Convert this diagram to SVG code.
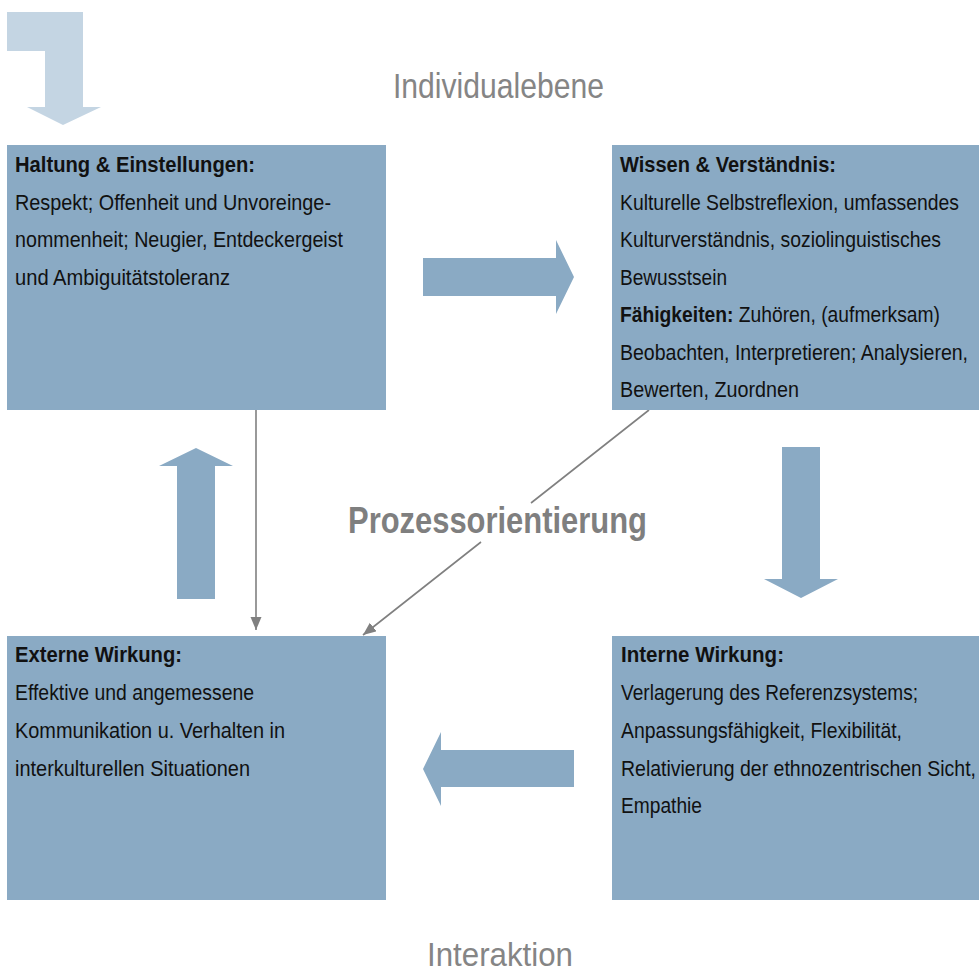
<svg xmlns="http://www.w3.org/2000/svg" width="979" height="972" viewBox="0 0 979 972">
<style>
.box{fill:#8aaac4}
.fat{fill:#8aaac4}
.t{font-family:"Liberation Sans Narrow","Liberation Sans",Arial,sans-serif;font-size:22px;fill:#111}
.b{font-weight:bold}
.lbl{font-family:"Liberation Sans Narrow","Liberation Sans",Arial,sans-serif;fill:#858585}
.con{stroke:#808080;stroke-width:1.6;fill:none}
</style>
<defs>
<marker id="ah" markerUnits="userSpaceOnUse" markerWidth="14" markerHeight="12" refX="13" refY="5.5" orient="auto">
<path d="M0,0 L13,5.5 L0,11 z" fill="#808080"/>
</marker>
</defs>
<rect width="979" height="972" fill="#ffffff"/>

<g id="entry-arrow">
<polygon points="7,12 83,12 83,107 101,107 63,125 27,107 45,107 45,51 7,51" fill="#c4d5e3"/>
</g>

<g id="labels">
<text class="lbl" x="393" y="98" font-size="35" textLength="211" lengthAdjust="spacingAndGlyphs">Individualebene</text>
<text class="lbl" x="427" y="966" font-size="34" textLength="146" lengthAdjust="spacingAndGlyphs">Interaktion</text>
</g>

<g id="connectors">
<path class="con" d="M256,410 L256,630" marker-end="url(#ah)"/>
<path class="con" d="M649,410 L531,503 M481,542 L363,635" marker-end="url(#ah)"/>
</g>

<g id="process-label">
<text class="lbl b" x="348" y="533" font-size="36" textLength="299" lengthAdjust="spacingAndGlyphs" style="fill:#7f7f7f">Prozessorientierung</text>
</g>

<g id="flow-arrows">
<polygon class="fat" points="423,258 556,258 556,240 574,277 556,314 556,296 423,296"/>
<polygon class="fat" points="782,447 820,447 820,579 838,579 801,598 764,579 782,579"/>
<polygon class="fat" points="574,750 574,787 441,787 441,806 423,769 441,732 441,750"/>
<polygon class="fat" points="177,599 177,466 159,466 196,448 233,466 215,466 215,599"/>
</g>

<g id="haltung">
<rect class="box" x="7" y="145" width="379" height="265"/>
<text class="t b" x="15" y="172" textLength="240" lengthAdjust="spacingAndGlyphs">Haltung &amp; Einstellungen:</text>
<text class="t" x="15" y="210" textLength="316" lengthAdjust="spacingAndGlyphs">Respekt; Offenheit und Unvoreinge-</text>
<text class="t" x="15" y="247" textLength="328" lengthAdjust="spacingAndGlyphs">nommenheit; Neugier, Entdeckergeist</text>
<text class="t" x="15" y="285" textLength="215" lengthAdjust="spacingAndGlyphs">und Ambiguitätstoleranz</text>
</g>

<g id="wissen">
<rect class="box" x="612" y="145" width="367" height="265"/>
<text class="t b" x="620" y="172" textLength="216" lengthAdjust="spacingAndGlyphs">Wissen &amp; Verständnis:</text>
<text class="t" x="620" y="210" textLength="339" lengthAdjust="spacingAndGlyphs">Kulturelle Selbstreflexion, umfassendes</text>
<text class="t" x="620" y="247" textLength="321" lengthAdjust="spacingAndGlyphs">Kulturverständnis, soziolinguistisches</text>
<text class="t" x="620" y="285" textLength="107" lengthAdjust="spacingAndGlyphs">Bewusstsein</text>
<text class="t" x="620" y="322" textLength="320" lengthAdjust="spacingAndGlyphs"><tspan class="b">Fähigkeiten:</tspan> Zuhören, (aufmerksam)</text>
<text class="t" x="620" y="360" textLength="348" lengthAdjust="spacingAndGlyphs">Beobachten, Interpretieren; Analysieren,</text>
<text class="t" x="620" y="397" textLength="179" lengthAdjust="spacingAndGlyphs">Bewerten, Zuordnen</text>
</g>

<g id="extern">
<rect class="box" x="7" y="636" width="379" height="264"/>
<text class="t b" x="15" y="662" textLength="167" lengthAdjust="spacingAndGlyphs">Externe Wirkung:</text>
<text class="t" x="15" y="700" textLength="239" lengthAdjust="spacingAndGlyphs">Effektive und angemessene</text>
<text class="t" x="15" y="738" textLength="270" lengthAdjust="spacingAndGlyphs">Kommunikation u. Verhalten in</text>
<text class="t" x="15" y="776" textLength="235" lengthAdjust="spacingAndGlyphs">interkulturellen Situationen</text>
</g>

<g id="intern">
<rect class="box" x="612" y="636" width="367" height="264"/>
<text class="t b" x="621" y="662" textLength="163" lengthAdjust="spacingAndGlyphs">Interne Wirkung:</text>
<text class="t" x="621" y="700" textLength="297" lengthAdjust="spacingAndGlyphs">Verlagerung des Referenzsystems;</text>
<text class="t" x="621" y="738" textLength="281" lengthAdjust="spacingAndGlyphs">Anpassungsfähigkeit, Flexibilität,</text>
<text class="t" x="621" y="776" textLength="355" lengthAdjust="spacingAndGlyphs">Relativierung der ethnozentrischen Sicht,</text>
<text class="t" x="621" y="813" textLength="81" lengthAdjust="spacingAndGlyphs">Empathie</text>
</g>
</svg>
